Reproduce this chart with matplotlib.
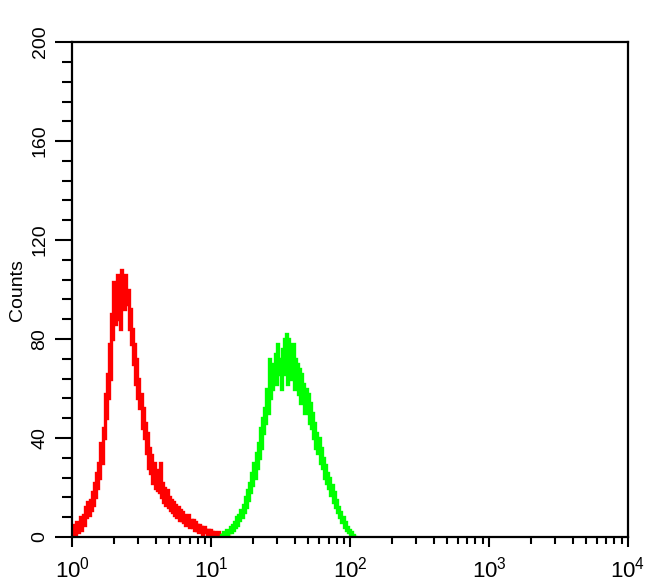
import matplotlib
matplotlib.use('Agg')
from matplotlib import pyplot as plt
from matplotlib.ticker import FixedLocator, LogLocator, NullFormatter
import numpy as np

plt.rcParams['font.family'] = ['Liberation Sans', 'DejaVu Sans']
plt.rcParams['mathtext.fontset'] = 'custom'
plt.rcParams['mathtext.rm'] = 'Liberation Sans'
plt.rcParams['mathtext.it'] = 'Liberation Sans'

# canais por decada
canais_decada = 128

# histograma vermelho (controle), a partir do canal 0
vermelho = [3, 0, 5, 1, 6, 2, 4, 8, 3, 6,
            9, 5, 12, 8, 14, 9, 15, 11, 18, 13,
            22, 16, 26, 20, 30, 24, 38, 30, 44, 40,
            58, 48, 66, 56, 78, 64, 90, 80, 103, 86,
            98, 106, 88, 104, 84, 108, 96, 104, 92, 106,
            94, 100, 84, 92, 78, 84, 70, 78, 62, 72,
            56, 64, 52, 58, 44, 52, 40, 46, 34, 42,
            28, 36, 26, 33, 22, 30, 20, 27, 19, 25,
            18, 30, 16, 22, 14, 20, 13, 19, 12, 16,
            11, 15, 10, 14, 9, 13, 8, 12, 7, 11,
            7, 10, 6, 9, 5, 8, 6, 9, 4, 7,
            4, 7, 3, 6, 3, 5, 2, 5, 3, 4,
            1, 4, 2, 3, 0, 3, 1, 3, 0, 2,
            1, 2, 0, 1, 2, 0, 1, 0, 1, 0,
            1, 0, 0, 1, 0, 0]

# histograma verde (amostra), a partir do canal 136
inicio_verde = 136
verde = [0, 1, 0, 2, 0, 1, 3, 0, 2, 4,
         2, 5, 3, 6, 4, 8, 5, 9, 7, 11,
         8, 13, 10, 16, 12, 19, 15, 22, 18, 26,
         21, 30, 24, 34, 28, 38, 32, 44, 36, 48,
         42, 52, 46, 60, 50, 72, 56, 66, 60, 70,
         64, 74, 62, 78, 66, 72, 60, 76, 66, 80,
         68, 82, 62, 80, 70, 76, 64, 78, 60, 72,
         64, 70, 58, 68, 54, 66, 56, 62, 50, 60,
         52, 58, 46, 54, 44, 50, 40, 46, 36, 42,
         34, 40, 30, 36, 28, 32, 24, 29, 22, 26,
         20, 24, 17, 21, 14, 18, 12, 15, 10, 12,
         8, 10, 6, 8, 4, 6, 3, 4, 2, 3,
         1, 2, 0, 1, 0, 0]

yticks = [0, 40, 80, 120, 160, 200]
xticks = [1, 10, 100, 1000, 10000]
xlabels = ['$10^{0}$', '$10^{1}$', '$10^{2}$', '$10^{3}$', '$10^{4}$']

fig = plt.figure(figsize=(6.5, 5.85), dpi=100)
ax = fig.add_axes([0.111, 0.082, 0.855, 0.846])

n_v = len(vermelho)
bordas_v = 10 ** (np.arange(n_v + 1) / canais_decada)
ax.stairs(vermelho, bordas_v, color='#ff0000', linewidth=2.4, baseline=None)

n_g = len(verde)
bordas_g = 10 ** ((np.arange(n_g + 1) + inicio_verde) / canais_decada)
ax.stairs(verde, bordas_g, color='#00ff00', linewidth=2.4, baseline=None)

ax.set_xscale('log')
ax.set_xlim(1, 10000)
ax.set_ylim(0, 200)

ax.set_xticks(xticks)
ax.set_xticklabels(xlabels, fontsize=16)
ax.xaxis.set_minor_locator(LogLocator(base=10, subs=np.arange(2, 10)))
ax.xaxis.set_minor_formatter(NullFormatter())

ax.set_yticks(yticks)
ax.set_yticklabels([str(v) for v in yticks], fontsize=14, rotation=90, va='center')
ax.yaxis.set_minor_locator(FixedLocator(np.arange(0, 201, 8)))

ax.tick_params(axis='x', which='major', length=7, width=1.5, direction='out', pad=7)
ax.tick_params(axis='x', which='minor', length=5, width=1.5, direction='out')
ax.tick_params(axis='y', which='major', length=12, width=1.5, direction='out', pad=5)
ax.tick_params(axis='y', which='minor', length=7, width=1.5, direction='out')
ax.tick_params(top=False, right=False, which='both')

for lado in ax.spines.values():
    lado.set_linewidth(1.6)

ax.set_ylabel('Counts', fontsize=14, labelpad=4)

plt.savefig('out.png', dpi=100)
